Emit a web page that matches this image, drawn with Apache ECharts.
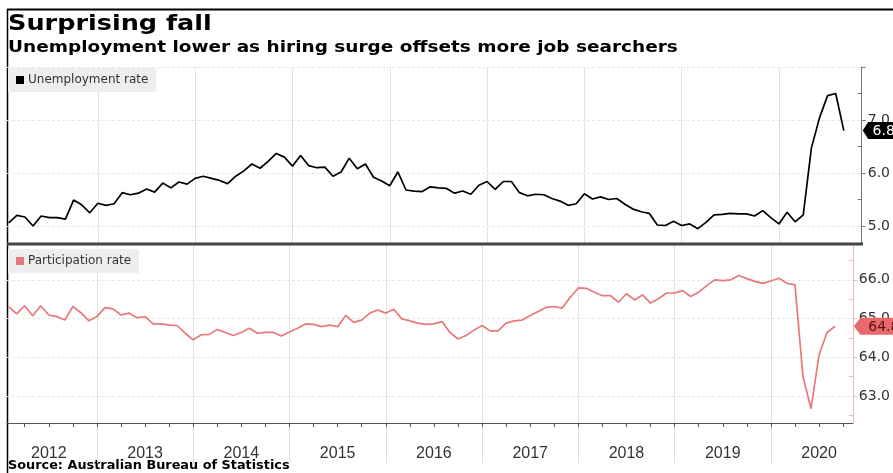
<!DOCTYPE html>
<html>
<head>
<meta charset="utf-8">
<script src="https://cdn.jsdelivr.net/npm/echarts@6/dist/echarts.min.js"></script>
<style>
  html, body { margin: 0; padding: 0; background: #fff; }
  #chart { width: 893px; height: 473px; }
</style>
</head>
<body>
<div id="chart"></div>
<script>
// Monthly ABS labour force figures, Jan 2012 – Aug 2020 (seasonally adjusted, %)
const startYear = 2012;
const yearLabels = ['2012', '2013', '2014', '2015', '2016', '2017', '2018', '2019', '2020'];

const unemployment = [
  5.06, 5.20, 5.17, 5.00, 5.19, 5.16, 5.16, 5.13, 5.49, 5.40, 5.25, 5.43,
  5.39, 5.42, 5.63, 5.59, 5.62, 5.70, 5.64, 5.81, 5.72, 5.83, 5.79, 5.90,
  5.94, 5.90, 5.86, 5.80, 5.94, 6.04, 6.17, 6.09, 6.22, 6.37, 6.30, 6.13,
  6.33, 6.14, 6.10, 6.11, 5.94, 6.02, 6.28, 6.08, 6.17, 5.92, 5.85, 5.76,
  6.02, 5.68, 5.66, 5.65, 5.74, 5.72, 5.71, 5.62, 5.66, 5.60, 5.77, 5.84,
  5.69, 5.84, 5.84, 5.63, 5.57, 5.60, 5.59, 5.52, 5.47, 5.39, 5.42, 5.61,
  5.51, 5.55, 5.50, 5.52, 5.41, 5.32, 5.27, 5.24, 5.02, 5.01, 5.09, 5.01,
  5.04, 4.95, 5.07, 5.21, 5.22, 5.24, 5.23, 5.23, 5.19, 5.29, 5.16, 5.04,
  5.26, 5.08, 5.21, 6.47, 7.04, 7.46, 7.50, 6.80
];

const participation = [
  65.31, 65.12, 65.33, 65.07, 65.33, 65.09, 65.05, 64.96, 65.31, 65.15, 64.94, 65.05,
  65.28, 65.25, 65.09, 65.14, 65.02, 65.05, 64.86, 64.86, 64.83, 64.82, 64.62, 64.45,
  64.58, 64.59, 64.72, 64.64, 64.56, 64.64, 64.75, 64.62, 64.64, 64.64, 64.55, 64.65,
  64.75, 64.86, 64.85, 64.79, 64.83, 64.79, 65.08, 64.90, 64.96, 65.14, 65.22, 65.14,
  65.24, 64.99, 64.94, 64.88, 64.85, 64.86, 64.92, 64.64, 64.47, 64.56, 64.70, 64.82,
  64.68, 64.68, 64.88, 64.94, 64.96, 65.08, 65.18, 65.29, 65.31, 65.27, 65.55, 65.79,
  65.78, 65.68, 65.59, 65.59, 65.42, 65.64, 65.48, 65.61, 65.40, 65.51, 65.66, 65.66,
  65.72, 65.57, 65.68, 65.85, 66.00, 65.98, 66.00, 66.11, 66.03, 65.96, 65.91, 65.97,
  66.04, 65.91, 65.87, 63.50, 62.67, 64.06, 64.64, 64.80
];

const unemploymentTicks = [5.0, 6.0, 7.0];
const participationTicks = [63.0, 64.0, 65.0, 66.0];

// Each monthly observation sits at the end of its month on a fractional-year scale
function toSeries(values) {
  return values.map((v, i) => [startYear + (i + 1) / 12, v]);
}

const X_MIN = 2012.066;
const X_MAX = 2020.851;

const yearBounds = yearLabels.slice(1).map(y => Number(y));
const yearMids = yearLabels.map(y => Number(y) + 0.5);
const quarterTicks = [];
for (let y = startYear; y <= 2020; y++) {
  for (let q = 0; q < 4; q++) {
    const v = y + q / 4;
    if (v > X_MIN && v < X_MAX) quarterTicks.push(v);
  }
}

// minor ticks halfway between whole-number gridlines
function halfSteps(lo, hi) {
  const out = [];
  for (let v = Math.floor(lo) + 0.5; v < hi; v += 1) out.push(v);
  return out;
}

const FONT = "'DejaVu Sans', Verdana, sans-serif";
const YEAR_FONT = "'Liberation Sans', Arial, sans-serif";
const UR_COLOR = '#000000';
const PR_COLOR = '#e8787b';

const chart = echarts.init(document.getElementById('chart'), null, { renderer: 'canvas' });

const tagPath = 'path://M0,6 L6,0 L40,0 L40,12 L6,12 Z';

// heading text, widened slightly for a Verdana-like set
function headText(str, x, y, size, sx) {
  return {
    type: 'text', silent: true, x: x, y: y, scaleX: sx, scaleY: 1,
    style: {
      text: str, fill: '#000',
      font: 'bold ' + size + 'px ' + FONT,
      textVerticalAlign: 'top'
    }
  };
}

chart.setOption({
  animation: false,
  backgroundColor: '#ffffff',
  legend: [
    {
      data: ['Unemployment rate'],
      left: 8, top: 68,
      padding: [6, 8, 6, 8],
      backgroundColor: '#eeeeee',
      icon: 'rect', itemWidth: 8, itemHeight: 8, itemGap: 4,
      textStyle: { fontFamily: FONT, fontSize: 12, color: '#333', padding: [0, 0, 0, -1] },
      selectedMode: false
    },
    {
      data: ['Participation rate'],
      left: 8, top: 249,
      padding: [6, 8, 6, 8],
      backgroundColor: '#eeeeee',
      icon: 'rect', itemWidth: 8, itemHeight: 8, itemGap: 4,
      textStyle: { fontFamily: FONT, fontSize: 12, color: '#333', padding: [0, 0, 0, -1] },
      selectedMode: false
    }
  ],
  grid: [
    { left: 7, right: 30, top: 67, height: 176 },
    { left: 7, right: 30, top: 245, height: 178 }
  ],
  xAxis: [
    {
      // top panel: year dividers only
      type: 'value', gridIndex: 0, position: 'bottom', min: X_MIN, max: X_MAX,
      axisLine: { show: false },
      axisTick: { show: false, customValues: yearBounds },
      axisLabel: { show: false },
      splitLine: { show: true, lineStyle: { color: '#e2e2e2', width: 1 } }
    },
    {
      // bottom panel: year dividers, running down into the label strip, and year labels
      type: 'value', gridIndex: 1, position: 'bottom', min: X_MIN, max: X_MAX,
      axisLine: { show: false },
      axisTick: { show: true, customValues: yearBounds, length: 40, lineStyle: { color: '#dddddd' } },
      axisLabel: {
        show: true, customValues: yearMids, margin: 23,
        fontFamily: YEAR_FONT, fontSize: 16, color: '#333',
        formatter: v => String(Math.floor(v))
      },
      splitLine: { show: true, lineStyle: { color: '#e2e2e2', width: 1 } }
    },
    {
      // bottom panel: axis line with quarterly ticks
      type: 'value', gridIndex: 1, position: 'bottom', offset: 0, min: X_MIN, max: X_MAX,
      axisLine: { show: true, onZero: false, lineStyle: { color: '#555', width: 1 } },
      axisTick: { show: true, customValues: quarterTicks, length: 4, lineStyle: { color: '#555' } },
      axisLabel: { show: false },
      splitLine: { show: false }
    }
  ],
  yAxis: [
    {
      type: 'value', gridIndex: 0, position: 'right', offset: 0, min: 4.68, max: 8.0,
      axisLine: { show: true, lineStyle: { color: '#777' } },
      axisTick: { show: true, customValues: [5, 6, 7, 8], length: 4, lineStyle: { color: '#777' } },
      axisLabel: {
        customValues: unemploymentTicks, margin: 6,
        fontFamily: FONT, fontSize: 14, color: '#333',
        formatter: v => v.toFixed(1)
      },
      splitLine: { show: true, lineStyle: { color: '#e6e6e6', type: [3, 2] } }
    },
    {
      type: 'value', gridIndex: 0, position: 'right', offset: 0, min: 4.68, max: 8.0,
      axisLine: { show: false },
      axisTick: { show: true, inside: true, customValues: halfSteps(4.68, 8.0), length: 4, lineStyle: { color: '#777' } },
      axisLabel: { show: false },
      splitLine: { show: false }
    },
    {
      type: 'value', gridIndex: 1, position: 'right', offset: 0, min: 62.3, max: 66.9,
      axisLine: { show: true, lineStyle: { color: '#f2b8b9' } },
      axisTick: { show: true, customValues: participationTicks, length: 4, lineStyle: { color: '#f2b8b9' } },
      axisLabel: {
        customValues: participationTicks, margin: 6,
        fontFamily: FONT, fontSize: 14, color: '#333',
        formatter: v => v.toFixed(1)
      },
      splitLine: { show: true, lineStyle: { color: '#e6e6e6', type: [3, 2] } }
    },
    {
      type: 'value', gridIndex: 1, position: 'right', offset: 0, min: 62.3, max: 66.9,
      axisLine: { show: false },
      axisTick: { show: true, inside: true, customValues: halfSteps(62.3, 66.9), length: 4, lineStyle: { color: '#f2b8b9' } },
      axisLabel: { show: false },
      splitLine: { show: false }
    }
  ],
  series: [
    {
      name: 'Unemployment rate',
      type: 'line', xAxisIndex: 0, yAxisIndex: 0,
      data: toSeries(unemployment),
      showSymbol: false, symbol: 'none',
      itemStyle: { color: UR_COLOR },
      lineStyle: { color: UR_COLOR, width: 1.7 },
      markPoint: {
        silent: true,
        symbol: tagPath, symbolKeepAspect: false,
        symbolSize: [36, 17], symbolOffset: [19, 0],
        itemStyle: { color: '#000' },
        label: {
          show: true, position: 'inside', offset: [3, 1],
          fontFamily: FONT, fontSize: 14, color: '#fff',
          formatter: p => p.value.toFixed(1)
        },
        data: [{ coord: [X_MAX, unemployment[unemployment.length - 1]], value: unemployment[unemployment.length - 1] }]
      }
    },
    {
      name: 'Participation rate',
      type: 'line', xAxisIndex: 2, yAxisIndex: 2,
      data: toSeries(participation),
      showSymbol: false, symbol: 'none',
      itemStyle: { color: PR_COLOR },
      lineStyle: { color: PR_COLOR, width: 1.7 },
      markPoint: {
        silent: true,
        symbol: tagPath, symbolKeepAspect: false,
        symbolSize: [44, 17], symbolOffset: [23, 0],
        itemStyle: { color: '#e8696c' },
        label: {
          show: true, position: 'inside', offset: [8, 1],
          fontFamily: FONT, fontSize: 14, color: '#5a1010',
          formatter: p => p.value.toFixed(1)
        },
        data: [{ coord: [X_MAX, participation[participation.length - 1]], value: participation[participation.length - 1] }]
      }
    }
  ],
  graphic: [
    headText('Surprising fall', 8, 13, 22, 1.16),
    headText('Unemployment lower as hiring surge offsets more job searchers', 8, 39, 16.5, 1.12),
    headText('Source: Australian Bureau of Statistics', 8, 460, 12, 1.07),
    // chart frame and panel divider
    { type: 'line', silent: true, shape: { x1: 7, y1: 9.5, x2: 893, y2: 9.5 }, style: { stroke: '#000', lineWidth: 2 } },
    { type: 'line', silent: true, shape: { x1: 7.5, y1: 9, x2: 7.5, y2: 473 }, style: { stroke: '#000', lineWidth: 1.5 } },
    { type: 'line', silent: true, shape: { x1: 7, y1: 244, x2: 863, y2: 244 }, style: { stroke: '#444', lineWidth: 3 }, z: 100 }
  ]
});
</script>
</body>
</html>
